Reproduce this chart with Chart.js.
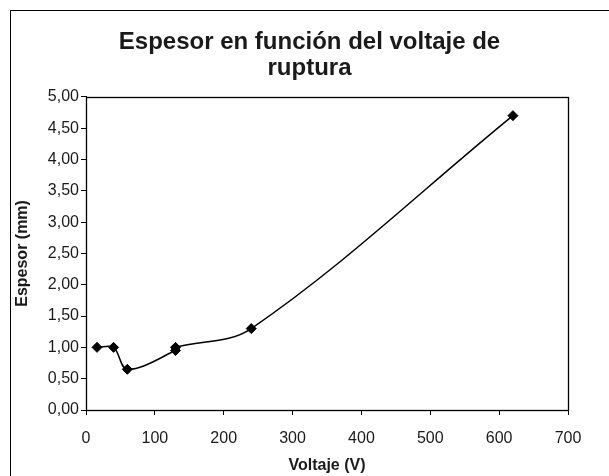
<!DOCTYPE html>
<html>
<head>
<meta charset="utf-8">
<script src="https://cdn.jsdelivr.net/npm/chart.js@4"></script>
<style>
  html, body { margin: 0; padding: 0; background: #fff; }
  canvas { display: block; }
</style>
</head>
<body>
<canvas id="c" width="609" height="476"></canvas>
<script>
const voltaje = [16, 40, 60, 130, 130, 240, 620];
const espesor = [1.00, 1.00, 0.65, 0.95, 1.00, 1.30, 4.70];
const titleLines = ['Espesor en función del voltaje de', 'ruptura'];
const xTitle = 'Voltaje (V)';
const yTitle = 'Espesor (mm)';
const xTicks = [0, 100, 200, 300, 400, 500, 600, 700];
const yTicks = [0, 0.5, 1, 1.5, 2, 2.5, 3, 3.5, 4, 4.5, 5];

const points = voltaje.map((v, i) => ({ x: v, y: espesor[i] }));
const FONT = "'Liberation Sans', Arial, sans-serif";

const framePlugin = {
  id: 'frame',
  beforeDraw(chart) {
    const ctx = chart.ctx;
    ctx.save();
    ctx.fillStyle = '#fff';
    ctx.fillRect(0, 0, chart.width, chart.height);
    ctx.strokeStyle = '#000';
    ctx.lineWidth = 1;
    ctx.strokeRect(10.5, 10.5, 700, 600);
    ctx.restore();
  },
  afterDatasetsDraw(chart) {
    const a = chart.chartArea;
    const ctx = chart.ctx;
    ctx.save();
    ctx.strokeStyle = '#000';
    ctx.lineWidth = 1.3;
    ctx.strokeRect(Math.round(a.left) + 0.5, Math.round(a.top) + 0.5,
                   Math.round(a.right - a.left), Math.round(a.bottom - a.top));
    ctx.restore();
  }
};

new Chart(document.getElementById('c'), {
  type: 'scatter',
  data: {
    datasets: [{
      data: points,
      showLine: true,
      tension: 0.35,
      borderColor: '#000',
      borderWidth: 1.5,
      pointStyle: 'rectRot',
      pointRadius: 5,
      pointBorderWidth: 1,
      pointBackgroundColor: '#000',
      pointBorderColor: '#000'
    }, {
      data: [],
      yAxisID: 'yR'
    }]
  },
  options: {
    responsive: false,
    animation: false,
    devicePixelRatio: 1,
    layout: { padding: { left: 10, top: 10, right: 0, bottom: 0 } },
    plugins: {
      legend: { display: false },
      tooltip: { enabled: false },
      title: {
        display: true,
        text: titleLines,
        color: '#1a1a1a',
        font: { family: FONT, size: 24, weight: 'bold', lineHeight: 1.08 },
        padding: { top: 19, bottom: 16 }
      }
    },
    scales: {
      x: {
        type: 'linear',
        min: 0, max: 700,
        afterBuildTicks: s => { s.ticks = xTicks.map(v => ({ value: v })); },
        afterFit: s => { s.height = 66; },
        grid: { display: true, drawOnChartArea: false, drawTicks: true, tickLength: 5, color: '#000', tickWidth: 1 },
        border: { display: true, color: '#000', width: 1 },
        ticks: { color: '#1a1a1a', padding: 14, maxRotation: 0, font: { family: FONT, size: 16 } },
        title: { display: true, text: xTitle, color: '#1a1a1a', padding: { top: 0, bottom: 1 }, font: { family: FONT, size: 16, weight: 'bold' } }
      },
      y: {
        type: 'linear',
        position: 'left',
        min: 0, max: 5,
        afterBuildTicks: s => { s.ticks = yTicks.map(v => ({ value: v })); },
        afterFit: s => { s.width = 76; },
        grid: { display: true, drawOnChartArea: false, drawTicks: true, tickLength: 5, color: '#000', tickWidth: 1 },
        border: { display: true, color: '#000', width: 1 },
        ticks: {
          color: '#1a1a1a', padding: 2, font: { family: FONT, size: 16 },
          callback: v => v.toFixed(2).replace('.', ',')
        },
        title: { display: true, text: yTitle, color: '#1a1a1a', padding: { top: 3, bottom: 2 }, font: { family: FONT, size: 16, weight: 'bold' } }
      },
      yR: {
        type: 'linear',
        position: 'right',
        display: true,
        min: 0, max: 5,
        afterFit: s => { s.width = 41; },
        grid: { display: false, drawTicks: false },
        border: { display: false },
        ticks: { display: false },
        title: { display: false }
      }
    }
  },
  plugins: [framePlugin]
});
</script>
</body>
</html>
